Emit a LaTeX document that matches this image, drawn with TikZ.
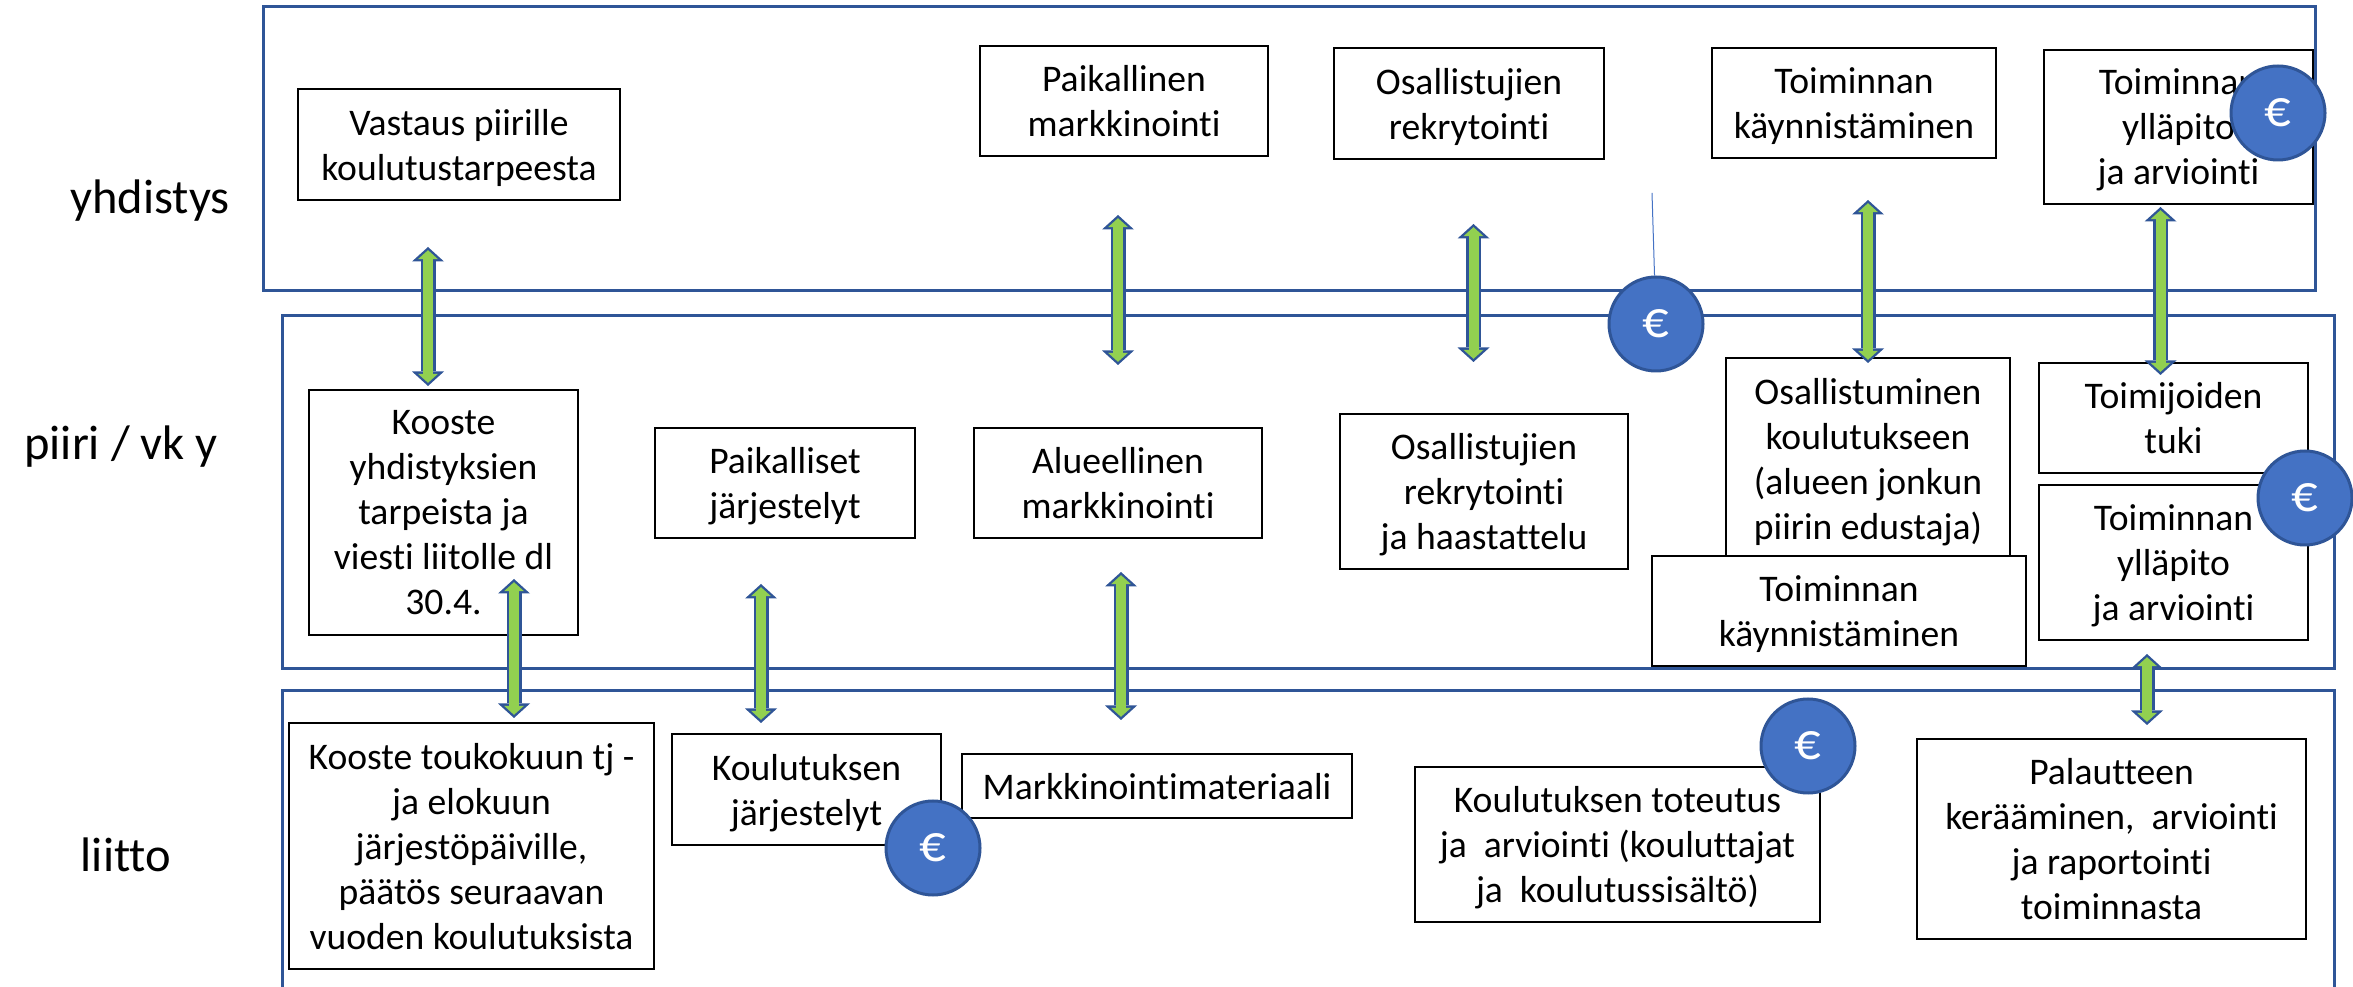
\documentclass[tikz,border=0pt]{standalone}
\usepackage{fontspec}
\setmainfont{Carlito}[Ligatures=NoCommon]
\usetikzlibrary{arrows.meta}
\definecolor{framecolor}{HTML}{2F5597}
\definecolor{eurocolor}{HTML}{4472C4}
\definecolor{arrowcolor}{HTML}{92D050}
\newcommand{\tipout}{Triangle[length=1.45mm,width=3.2mm,line width=0pt]}
\newcommand{\tipin}{Triangle[length=.9mm,width=2mm,line width=0pt]}
\tikzset{
  frameline/.style={draw=framecolor,line width=.3mm},
  textbox/.style={draw=black,fill=white,line width=.2mm,inner sep=0pt,align=center,text depth=0pt,font=\fontsize{10.7}{12.8}\selectfont},
  levellabel/.style={inner sep=0pt,font=\fontsize{13.8}{17}\selectfont},
  euro/.style={circle,draw=framecolor,fill=eurocolor,line width=.3mm,inner sep=0pt,minimum size=9.4mm,text=white,font=\fontsize{15}{18}\selectfont},
  arrowout/.style={draw=framecolor,line width=1.5mm,{\tipout}-{\tipout}},
  arrowin/.style={draw=arrowcolor,line width=1mm,{\tipin}-{\tipin},shorten <=.32mm,shorten >=.32mm}
}
\begin{document}
\begin{tikzpicture}[x=0.1mm,y=-0.1mm]
\useasboundingbox (0,0) rectangle (2353,987);
%levels
\draw[frameline] (263,7) rectangle (2315,291);
\draw[frameline] (282,316) rectangle (2334,669);
\draw[frameline] (282,987) -- (282,691) -- (2334,691) -- (2334,987);
\node[levellabel] (yhdistys) at (150,201) {yhdistys};
\node[levellabel] (piiri) at (121,447) {piiri / vk y};
\node[levellabel] (liitto) at (126,855) {liitto};
%yhdistys
\node[textbox,minimum width=32.2mm,minimum height=11.1mm] (vastaus) at (459,144.5) {Vastaus piirille\\koulutustarpeesta};
\node[textbox,minimum width=28.8mm,minimum height=11mm] (paikmark) at (1124,101) {Paikallinen\\markkinointi};
\node[textbox,minimum width=27mm,minimum height=11.1mm] (osrekry) at (1469,103.5) {Osallistujien\\rekrytointi};
\node[textbox,minimum width=28.4mm,minimum height=11mm] (toimkay) at (1854,103) {Toiminnan\\käynnistäminen};
\node[textbox,minimum width=26.9mm,minimum height=15.4mm] (toimyll) at (2178.5,127) {Toiminnan\\ylläpito\\ja arviointi};
%piiri
\node[textbox,minimum width=26.9mm,minimum height=24.5mm] (kooste) at (443.5,512.5) {Kooste\\yhdistyksien\\tarpeista ja\\viesti liitolle dl\\30.4.};
\node[textbox,minimum width=26mm,minimum height=11mm] (paikjar) at (785,483) {Paikalliset\\järjestelyt};
\node[textbox,minimum width=28.8mm,minimum height=11mm] (aluemark) at (1118,483) {Alueellinen\\markkinointi};
\node[textbox,minimum width=28.8mm,minimum height=15.5mm] (oshaast) at (1484,491.5) {Osallistujien\\rekrytointi\\ja haastattelu};
\node[textbox,minimum width=28.4mm,minimum height=20.1mm] (osall) at (1868,458.5) {Osallistuminen\\koulutukseen\\(alueen jonkun\\piirin edustaja)};
\node[textbox,minimum width=37.4mm,minimum height=11mm] (toimkayb) at (1839,611) {Toiminnan\\käynnistäminen};
\node[textbox,minimum width=26.9mm,minimum height=11mm] (toimijat) at (2173.5,418) {Toimijoiden\\tuki};
\node[textbox,minimum width=26.9mm,minimum height=15.5mm] (toimyllb) at (2173.5,562.5) {Toiminnan\\ylläpito\\ja arviointi};
%liitto
\node[textbox,minimum width=36.5mm,minimum height=24.6mm] (koostetj) at (471.5,846) {Kooste toukokuun tj -\\ja elokuun\\järjestöpäiville,\\päätös seuraavan\\vuoden koulutuksista};
\node[textbox,minimum width=26.9mm,minimum height=11.1mm] (kouljar) at (806.5,789.5) {Koulutuksen\\järjestelyt};
\node[textbox,minimum width=39mm,minimum height=6.4mm] (markmat) at (1157,786) {Markkinointimateriaali};
\node[textbox,minimum width=40.5mm,minimum height=15.5mm] (koulto) at (1617.5,844.5) {Koulutuksen toteutus\\ja~~arviointi (kouluttajat\\ja~~koulutussisältö)};
\node[textbox,minimum width=38.9mm,minimum height=20mm] (palaute) at (2111.5,839) {Palautteen\\kerääminen,~~arviointi\\ja raportointi\\toiminnasta};
%arrow ends
\coordinate (a1) at (428,247);
\coordinate (a2) at (428,386);
\coordinate (b1) at (1118,215);
\coordinate (b2) at (1118,365);
\coordinate (c1) at (1473.5,224);
\coordinate (c2) at (1473.5,362);
\coordinate (d1) at (1868,200);
\coordinate (d2) at (1868,363);
\coordinate (e1) at (2160.5,207);
\coordinate (e2) at (2160.5,375);
\coordinate (f1) at (514,579);
\coordinate (f2) at (514,718);
\coordinate (g1) at (761,584);
\coordinate (g2) at (761,723);
\coordinate (h1) at (1121,572);
\coordinate (h2) at (1121,720);
\coordinate (i1) at (2147,654);
\coordinate (i2) at (2147,725);
%arrows
\draw[arrowout] (a1) -- (a2);
\draw[arrowin] (a1) -- (a2);
\draw[arrowout] (b1) -- (b2);
\draw[arrowin] (b1) -- (b2);
\draw[arrowout] (c1) -- (c2);
\draw[arrowin] (c1) -- (c2);
\draw[arrowout] (d1) -- (d2);
\draw[arrowin] (d1) -- (d2);
\draw[arrowout] (e1) -- (e2);
\draw[arrowin] (e1) -- (e2);
\draw[arrowout] (f1) -- (f2);
\draw[arrowin] (f1) -- (f2);
\draw[arrowout] (g1) -- (g2);
\draw[arrowin] (g1) -- (g2);
\draw[arrowout] (h1) -- (h2);
\draw[arrowin] (h1) -- (h2);
\draw[arrowout] (i1) -- (i2);
\draw[arrowin] (i1) -- (i2);
%euros
\node[euro] (euroa) at (1656,324) {€};
\node[euro] (eurob) at (2278,113) {€};
\node[euro] (euroc) at (2305,498) {€};
\node[euro] (eurod) at (1808,746) {€};
\node[euro] (euroe) at (933,848) {€};
\coordinate (stub) at (1652,193);
\draw[eurocolor,line width=.1mm] (stub) -- (euroa);
\end{tikzpicture}
\end{document}
